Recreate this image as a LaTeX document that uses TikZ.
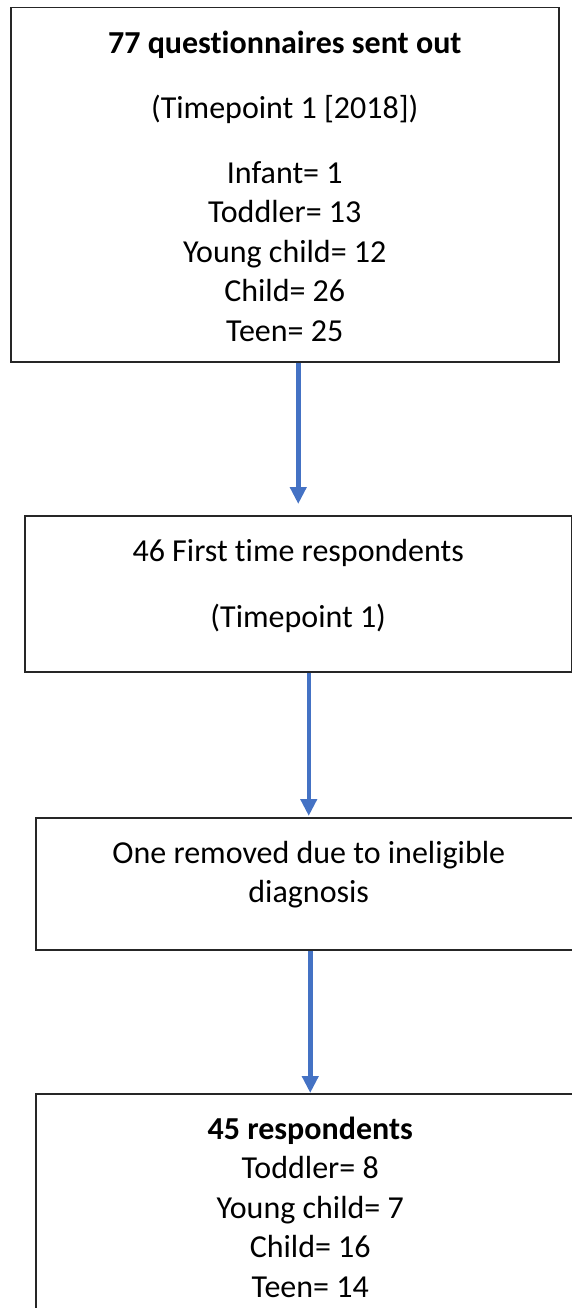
\documentclass[tikz,border=0pt]{standalone}
\usepackage{fontspec}
\setmainfont{Carlito}[Ligatures=NoCommon]
\usepackage{tikz}
\usetikzlibrary{calc,arrows.meta,positioning}
\usepackage{xcolor}
\definecolor{flowBlue}{HTML}{4472C4}
\newcommand{\flowtext}[3]{\parbox[c][#2][t]{#1}{\centering\vspace*{18pt}\strut#3}}

\begin{document}
\begin{tikzpicture}[x=1pt, y=1pt,
  flowbox/.style={rectangle, draw=black!85, line width=1.5pt, inner sep=0pt,
    anchor=north west, font=\fontsize{32}{39.5}\selectfont},
  flowarr/.style={-{Triangle[length=17pt,width=16pt]}, line width=4.5pt, color=flowBlue}]
  \clip (0,0) rectangle (572,-1308);
  \node[flowbox] (sent) at (10,-7)
    {\flowtext{548pt}{354pt}{\textbf{77 questionnaires sent out}\\[25.5pt]
     (Timepoint 1 [2018])\\[25.5pt]
     Infant= 1\\ Toddler= 13\\ Young child= 12\\ Child= 26\\ Teen= 25}};
  \node[flowbox] (first) at (24,-515)
    {\flowtext{547pt}{156pt}{46 First time respondents\\[26.5pt]
     (Timepoint 1)}};
  \node[flowbox] (removed) at (35,-817)
    {\flowtext{546pt}{132pt}{One removed due to ineligible\\ diagnosis}};
  \node[flowbox] (final) at (35,-1093)
    {\flowtext{549pt}{260pt}{\textbf{45 respondents}\\
     Toddler= 8\\ Young child= 7\\ Child= 16\\ Teen= 14}};
  \draw[flowarr, shorten >=11pt] (sent.south -| first.north) -- (first.north);
  \draw[flowarr, shorten >=1pt] (first.south -| removed.north) -- (removed.north);
  \draw[flowarr] (removed.south -| final.north) -- (final.north);
\end{tikzpicture}
\end{document}
